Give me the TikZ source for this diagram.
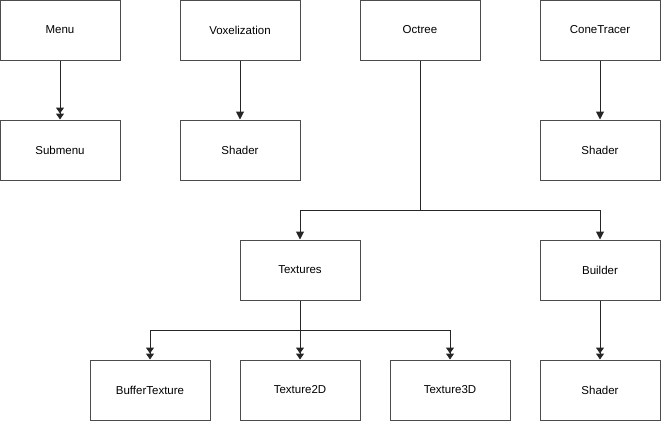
\documentclass[tikz,border=0pt]{standalone}
\usepackage{fontspec}
\setmainfont{Liberation Sans}
\usetikzlibrary{arrows.meta}

\tikzset{
  box/.style={draw=black!70, line width=1pt, fill=white, minimum width=120pt, minimum height=60pt, inner sep=0pt, font=\fontsize{11.5}{13}\selectfont},
  tip/.style={-{Triangle[length=8pt,width=8pt]}},
  tiptwo/.style={-{Triangle[length=6pt,width=8pt]Triangle[length=6pt,width=8pt]}},
  wire/.style={line width=1pt, black!85}
}

\begin{document}
\begin{tikzpicture}[x=1pt, y=-1pt]
        \useasboundingbox (0, 0) rectangle (661, 421);

        % top row
        \node[box] (menu) at (60, 30) {Menu};
        \node[box] (voxel) at (240, 30) {Voxelization};
        \node[box] (octree) at (420, 30) {Octree};
        \node[box] (cone) at (600, 30) {ConeTracer};

        \node[box] (submenu) at (60, 150) {Submenu};
        \node[box] (vshader) at (240, 150) {Shader};
        \node[box] (cshader) at (600, 150) {Shader};

        \node[box] (textures) at (300, 270) {Textures};
        \node[box] (builder) at (600, 270) {Builder};

        \node[box] (buffer) at (150, 390) {BufferTexture};
        \node[box] (tex2d) at (300, 390) {Texture2D};
        \node[box] (tex3d) at (450, 390) {Texture3D};
        \node[box] (bshader) at (600, 390) {Shader};

        \draw[wire, tiptwo] (menu) -- (submenu);
        \draw[wire, tip] (voxel) -- (vshader);
        \draw[wire, tip] (cone) -- (cshader);
        \draw[wire, tiptwo] (builder) -- (bshader);

        % octree split
        \coordinate (osplit) at (420, 210);
        \draw[wire] (octree) -- (osplit);
        \draw[wire, tip] (osplit) -| (textures);
        \draw[wire, tip] (osplit) -| (builder);

        % textures split
        \coordinate (tsplit) at (300, 330);
        \draw[wire] (textures) -- (tsplit);
        \draw[wire, tiptwo] (tsplit) -| (buffer);
        \draw[wire, tiptwo] (tsplit) -- (tex2d);
        \draw[wire, tiptwo] (tsplit) -| (tex3d);
      \end{tikzpicture}
\end{document}
